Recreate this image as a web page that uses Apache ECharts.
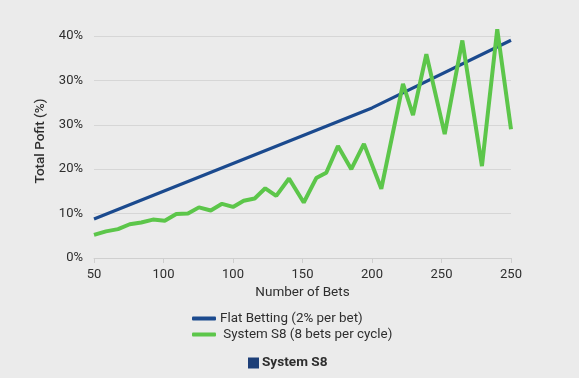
<!DOCTYPE html>
<html>
<head>
<meta charset="utf-8">
<script src="https://cdn.jsdelivr.net/npm/echarts@6/dist/echarts.min.js"></script>
<style>
html,body{margin:0;padding:0;background:#ebebeb;}
#chart{width:579px;height:378px;}
</style>
</head>
<body>
<div id="chart"></div>
<script>
// Tick labels as printed on the chart
const xTickLabels = ["50","100","100","150","200","250","250"];
const yTickLabels = ["0%","10%","20%","30%","30%","40%"];

// Flat betting line (x in axis units, y in axis units)
const flatX = [50, 250, 350];
const flatY = [8.76, 33.8, 49.05];

// System S8 line
const s8X = [50, 58.6, 67.3, 75.7, 84.0, 92.4, 100.9, 109.2, 117.6, 125.5, 134.0, 142.1, 150.0, 157.7, 165.6, 173.2, 181.1, 190.3, 200.9, 209.9, 217.1, 225.5, 235.1, 244.2, 256.7, 272.3, 279.5, 289.1, 302.3, 315.0, 329.1, 340.1, 350];
const s8Y = [5.2, 6.0, 6.5, 7.6, 8.0, 8.65, 8.4, 9.9, 10.0, 11.4, 10.7, 12.2, 11.5, 12.9, 13.4, 15.7, 14.0, 17.9, 12.5, 18.0, 19.2, 25.2, 20.0, 25.7, 15.6, 39.2, 32.2, 45.9, 27.9, 49.0, 20.7, 51.5, 29.0];

const BLUE = '#1b4a8e';
const GREEN = '#5cc64a';
const TEXT = '#2e2e2e';
const FONT = 'Roboto';

const chart = echarts.init(document.getElementById('chart'));
chart.setOption({
  backgroundColor: '#ebebeb',
  animation: false,
  textStyle: {fontFamily: FONT},
  grid: {left: 94, right: 68, top: 36, bottom: 120, containLabel: false},
  xAxis: {
    type: 'value', min: 50, max: 350, interval: 50,
    name: 'Number of Bets', nameLocation: 'middle', nameGap: 28,
    nameTextStyle: {color: TEXT, fontSize: 13.5, fontFamily: FONT},
    axisLine: {show: true, lineStyle: {color: '#cfcfcf'}},
    axisTick: {show: true, length: 5, lineStyle: {color: '#cfcfcf'}},
    splitLine: {show: false},
    axisLabel: {color: TEXT, fontSize: 13, margin: 10, fontFamily: FONT,
      formatter: v => xTickLabels[Math.round((v - 50) / 50)] || ''}
  },
  yAxis: {
    type: 'value', min: 0, max: 50, interval: 10,
    name: 'Total Pofit (%)', nameLocation: 'middle', nameGap: 41,
    nameTextStyle: {color: TEXT, fontSize: 13.5, fontWeight: 500, fontFamily: FONT, padding: [0, 0, 0, 12]},
    axisLine: {show: false}, axisTick: {show: false},
    splitLine: {lineStyle: {color: '#d6d6d6', width: 1}},
    axisLabel: {color: TEXT, fontSize: 13, margin: 11, fontFamily: FONT,
      formatter: v => yTickLabels[Math.round(v / 10)] || ''}
  },
  legend: [
    {
      data: ['Flat Betting (2% per bet)', ' System S8 (8 bets per cycle)'],
      orient: 'vertical', left: 187, top: 307, itemGap: 3,
      itemWidth: 24, itemHeight: 4, icon: 'roundRect',
      textStyle: {color: TEXT, fontSize: 13.4, fontFamily: FONT, padding: [0,0,0,-1]},
      selectedMode: false
    },
    {
      data: [{name: 'System S8', icon: 'rect'}],
      left: 243, top: 351, itemWidth: 11, itemHeight: 11, itemGap: 4,
      textStyle: {color: TEXT, fontSize: 13.6, fontWeight: 'bold', fontFamily: FONT, padding: [0,0,0,-2]},
      selectedMode: false
    }
  ],
  series: [
    {
      name: 'Flat Betting (2% per bet)', type: 'line', showSymbol: false, clip: false,
      data: flatX.map((x, i) => [x, flatY[i]]),
      lineStyle: {color: BLUE, width: 3.2}, itemStyle: {color: BLUE}
    },
    {
      name: ' System S8 (8 bets per cycle)', type: 'line', showSymbol: false, clip: false,
      data: s8X.map((x, i) => [x, s8Y[i]]),
      lineStyle: {color: GREEN, width: 4}, itemStyle: {color: GREEN}
    },
    {
      name: 'System S8', type: 'line', data: [], itemStyle: {color: '#1d3f78'}, lineStyle: {color: '#1d3f78'}
    }
  ]
});
</script>
</body>
</html>
